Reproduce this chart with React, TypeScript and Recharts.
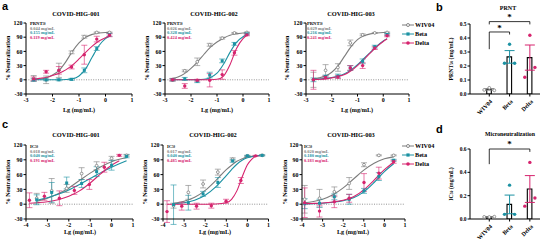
import React from 'react';
import { ComposedChart, Line, Scatter, XAxis, YAxis, ReferenceLine, ReferenceDot, ErrorBar, Bar } from 'recharts';

const GRAY = '#7d7d7d';
const TEAL = '#1c92a3';
const PINK = '#d6246e';
const FONT = '"Liberation Serif", "Times New Roman", serif';

// ---------- Panel a: PRNT ----------
const aDoseX = [-2.71, -2.24, -1.76, -1.28, -0.8, -0.33, 0.15];
const aCurveX = [-2.71, -2.5, -2.25, -2, -1.75, -1.5, -1.25, -1, -0.75, -0.5, -0.25, 0, 0.15];

const a1Wiv = [3, 0, 20, 58, 91, 100, 100];
const a1WivErr = [6, 8, 15, 3, 3, 1, 1];
const a1Beta = [0, 0, 0, 1, 20, 66, 95];
const a1BetaErr = [3, 2, 2, 2, 5, 4, 3];
const a1Delta = [2, 17, 20, 27, 53, 86, 94];
const a1DeltaErr = [4, 3, 8, 4, 20, 6, 3];
const a1WivCurve = [1, 2, 4, 10, 20, 38, 60, 78, 90, 96, 99, 100, 100];
const a1BetaCurve = [0, 0, 0, 0, 0, 0.5, 2, 8, 23, 48, 72, 87, 92];
const a1DeltaCurve = [1, 3, 5, 9, 14, 21, 31, 44, 58, 71, 82, 89, 92];

const a2Wiv = [0, 19, 38, 74, 88, 99, 100];
const a2WivErr = [3, 2, 8, 3, 2, 1, 1];
const a2Beta = [0, 2, -3, 10, 40, 76, 97];
const a2BetaErr = [2, 3, 3, 6, 4, 3, 2];
const a2Delta = [0, -13, -1, -1, 11, 57, 95];
const a2DeltaErr = [2, 5, 2, 14, 10, 5, 2];
const a2WivCurve = [3, 6, 13, 24, 38, 54, 69, 80, 88, 94, 97, 99, 99];
const a2BetaCurve = [0, 0, 0, 0, 0, 1, 5, 14, 33, 58, 79, 91, 95];
const a2DeltaCurve = [0, 0, 0, 0, 0, 0, 0, 1, 8, 32, 66, 87, 94];

const a3Wiv = [0, 20, 26, 78, 95, 99, 100];
const a3WivErr = [16, 12, 8, 6, 2, 1, 1];
const a3Beta = [0, 7, 8, 25, 39, 70, 96];
const a3BetaErr = [4, 3, 4, 5, 5, 3, 2];
const a3Delta = [0, 5, 6, 25, 30, 67, 93];
const a3DeltaErr = [20, 3, 3, 5, 6, 3, 2];
const a3WivCurve = [2, 4, 8, 16, 30, 50, 70, 85, 93, 97, 99, 100, 100];
const a3BetaCurve = [1, 1.5, 3, 5, 8, 13, 21, 32, 45, 58, 71, 82, 87];
const a3DeltaCurve = [0.5, 1, 2, 4, 7, 11, 19, 30, 43, 57, 70, 81, 86];

// ---------- Panel c: microneutralization ----------
const c1X = [-3.5, -2.8, -2.1, -1.4, -0.7, 0.0, 0.7];
const c1DeltaX = [-3.84, -3.14, -2.44, -1.74, -1.04, -0.34, 0.36];
const c1Wiv = [12, 27, 32, 62, 78, 93, 99];
const c1WivErr = [10, 25, 8, 12, 8, 4, 2];
const c1Beta = [9, 24, 43, 42, 66, 79, 97];
const c1BetaErr = [10, 20, 12, 8, 10, 10, 3];
const c1Delta = [8, 16, 12, 28, 40, 75, 99];
const c1DeltaErr = [15, 8, 15, 8, 10, 10, 2];
const c1CurveX = [-3.84, -3.5, -3, -2.5, -2, -1.5, -1, -0.5, 0, 0.36, 0.7];
const c1WivCurve = [null, 6, 12, 21, 33, 48, 63, 76, 86, 91, 94];
const c1BetaCurve = [null, 8, 13, 20, 29, 40, 52, 64, 75, 82, 88];
const c1DeltaCurve = [2, 3, 5, 9, 16, 27, 43, 62, 79, 88, null];

const c2X = [-3.5, -2.8, -2.1, -1.4, -0.7, 0.0, 0.7];
const c2DeltaX = [-3.81, -3.11, -2.41, -1.71, -1.01, -0.31, 0.39];
const c2Wiv = [-3, 24, 41, 65, 91, 98, 99];
const c2WivErr = [5, 14, 8, 6, 3, 1, 1];
const c2Beta = [-1, 3, 21, 44, 88, 98, 99];
const c2BetaErr = [40, 15, 5, 10, 3, 1, 1];
const c2Delta = [-15, -4, -4, -3, 6, 48, 98];
const c2DeltaErr = [22, 8, 6, 5, 4, 6, 1];
const c2CurveX = [-3.81, -3.5, -3, -2.5, -2, -1.5, -1, -0.75, -0.5, -0.25, 0, 0.2, 0.39, 0.7];
const c2WivCurve = [null, 2, 6, 14, 28, 48, 70, 79, 87, 92, 96, 97, 98, 99];
const c2BetaCurve = [null, 1, 3, 8, 18, 35, 58, 70, 81, 89, 94, 96, 98, 99];
const c2DeltaCurve = [0, 0, 0, 0, 0, 0.5, 3, 10, 27, 55, 80, 91, 97, null];

const c3X = [-3.87, -3.15, -2.43, -1.71, -0.99, -0.27, 0.45];
const c3Wiv = [10, 12, 25, 42, 80, 99, 99];
const c3WivErr = [28, 18, 10, 12, 4, 1, 1];
const c3Beta = [1, 2, 15, 10, 27, 56, 89];
const c3BetaErr = [10, 8, 6, 10, 5, 8, 2];
const c3Delta = [3, -14, 5, 12, 44, 63, 86];
const c3DeltaErr = [30, 12, 12, 8, 18, 12, 3];
const c3CurveX = [-3.87, -3.5, -3, -2.5, -2, -1.5, -1, -0.5, 0, 0.45];
const c3WivCurve = [3, 5, 10, 19, 33, 51, 69, 83, 92, 96];
const c3BetaCurve = [0.5, 1, 2, 4, 7, 13, 25, 44, 66, 82];
const c3DeltaCurve = [1, 1.5, 2.5, 4.5, 8, 15, 29, 49, 70, 85];

// ---------- Panels b and d: bars ----------
const variants = ['WIV04', 'Beta', 'Delta'];
const jitter = [-0.25, 0, 0.25];
const prntMeans = [0.033, 0.265, 0.26];
const prntSems = [0.005, 0.045, 0.09];
const prntWivPts = [0.029, 0.044, 0.026];
const prntBetaPts = [0.22, 0.355, 0.22];
const prntDeltaPts = [0.12, 0.42, 0.19];
const microMeans = [0.018, 0.125, 0.257];
const microSems = [0.002, 0.08, 0.115];
const microWivPts = [0.018, 0.017, 0.02];
const microBetaPts = [0.04, 0.29, 0.04];
const microDeltaPts = [0.11, 0.485, 0.18];

const aAnnot = [
  ['0.044', '0.155', '0.119'],
  ['0.026', '0.328', '0.424'],
  ['0.029', '0.216', '0.241'],
];
const cAnnot = [
  ['0.018', '0.040', '0.191'],
  ['0.017', '0.040', '0.485'],
  ['0.020', '0.180', '0.183'],
];

const pts = (xs: number[], ys: number[], es: number[]) => xs.map((x, i) => ({ x, y: ys[i], e: es[i] }));
const curve = (xs: number[], ys: (number | null)[]) => xs.map((x, i) => ({ x, y: ys[i] }));

const tickStyle = { fontSize: 6, fontFamily: FONT, fontWeight: 700, fill: '#000' };

const markerFor = (kind: string, color: string) => (p: any) => {
  const { cx, cy } = p;
  if (cx == null || cy == null) return <g />;
  if (kind === 'square') return <rect x={cx - 1.5} y={cy - 1.5} width={3} height={3} fill={color} />;
  if (kind === 'ring') return <circle cx={cx} cy={cy} r={1.4} fill="#fff" stroke={color} strokeWidth={0.8} />;
  return <circle cx={cx} cy={cy} r={1.7} fill={color} />;
};

type Series = { color: string; kind: string; p: any[]; c: any[] };

function LinePanel(props: { left: number; top: number; w: number; h: number; m: any; yw: number; xDomain: number[]; xTicks: number[]; series: Series[] }) {
  const { left, top, w, h, m, yw, xDomain, xTicks, series } = props;
  return (
    <div style={{ position: 'absolute', left, top }}>
      <ComposedChart width={w} height={h} margin={m}>
        <XAxis type="number" dataKey="x" domain={xDomain} ticks={xTicks} allowDataOverflow interval={0}
          tick={tickStyle} tickLine={{ stroke: '#000' }} axisLine={{ stroke: '#000', strokeWidth: 1 }} tickSize={2.5} tickMargin={1} height={12} />
        <YAxis type="number" domain={[-30, 120]} ticks={[-30, 0, 30, 60, 90, 120]} allowDataOverflow interval={0} width={yw}
          tick={tickStyle} tickLine={{ stroke: '#000' }} axisLine={{ stroke: '#000', strokeWidth: 1 }} tickSize={2.5} tickMargin={1} />
        <ReferenceLine y={0} stroke="#777" strokeDasharray="1 1.4" strokeWidth={0.8} />
        {series.map((s, i) => (
          <Line key={'l' + i} data={s.c} dataKey="y" type="monotone" stroke={s.color} strokeWidth={1.1} dot={false}
            isAnimationActive={false} connectNulls={false} />
        ))}
        {series.map((s, i) => (
          <Scatter key={'s' + i} data={s.p} dataKey="y" isAnimationActive={false} shape={markerFor(s.kind, s.color)}>
            <ErrorBar dataKey="e" direction="y" width={3} stroke={s.color} strokeWidth={0.6} />
          </Scatter>
        ))}
      </ComposedChart>
    </div>
  );
}

const BarTick = (p: any) => {
  const { x, y, payload } = p;
  const ty = y + 2;
  return (
    <text x={x + 2} y={ty} transform={`rotate(-45 ${x + 2} ${ty})`} textAnchor="end" dy="0.35em"
      fontSize={6} fontFamily={FONT} fontWeight={700} fill="#000">{variants[payload.value]}</text>
  );
};

const starShape = (p: any) => (
  <text x={p.cx} y={p.cy} textAnchor="middle" dominantBaseline="central" fontSize={9} fontFamily={FONT} fontWeight={700} fill="#000">*</text>
);

function BarPanel(props: { left: number; top: number; h: number; m: any; yMax: number; ticks: number[]; means: number[]; sems: number[]; groups: number[][]; children?: any }) {
  const { left, top, h, m, yMax, ticks, means, sems, groups } = props;
  const data = variants.map((v, i) => ({ x: i, mean: means[i] }));
  const colors = [GRAY, TEAL, PINK];
  return (
    <div style={{ position: 'absolute', left, top }}>
      <ComposedChart width={126} height={h} margin={m} data={data}>
        <XAxis type="number" dataKey="x" domain={[-0.95, 2.5]} ticks={[0, 1, 2]} allowDataOverflow interval={0}
          tick={<BarTick />} tickLine={{ stroke: '#000' }} axisLine={{ stroke: '#000', strokeWidth: 1 }} tickSize={2.5} height={22} />
        <YAxis type="number" domain={[0, yMax]} ticks={ticks} allowDataOverflow interval={0} width={50}
          tickFormatter={(v: number) => v.toFixed(1)}
          tick={{ ...tickStyle, fontSize: 5.5 }} tickLine={{ stroke: '#000' }} axisLine={{ stroke: '#000', strokeWidth: 1 }} tickSize={2.5} tickMargin={1} />
        <Bar dataKey="mean" barSize={13} fill="#fff" stroke="#000" strokeWidth={1.1} isAnimationActive={false} />
        {variants.map((v, i) => (
          <Scatter key={'e' + i} data={[{ x: i, y: means[i], e: sems[i] }]} dataKey="y" isAnimationActive={false} shape={() => <g />}>
            <ErrorBar dataKey="e" direction="y" width={5} stroke={colors[i]} strokeWidth={1} />
          </Scatter>
        ))}
        {groups.map((g, i) => (
          <Scatter key={'p' + i} data={g.map((y, j) => ({ x: i + jitter[j], y }))} dataKey="y" isAnimationActive={false}
            shape={markerFor(i === 0 ? 'ring' : 'dot', colors[i])} />
        ))}
        {props.children}
      </ComposedChart>
    </div>
  );
}

const T = (p: { x: number; y: number; size: number; children: any; color?: string; anchor?: 'start' | 'middle'; weight?: number; family?: string }) => {
  const tx = p.anchor === 'start' ? '0' : '-50%';
  return (
    <div style={{
      position: 'absolute', left: p.x, top: p.y, fontFamily: p.family || FONT, fontWeight: p.weight ?? 700, fontSize: p.size,
      color: p.color || '#000', lineHeight: 1, whiteSpace: 'nowrap', transform: `translate(${tx}, -50%)`,
    }}>{p.children}</div>
  );
};

const RotT = (p: { x: number; y: number; size: number; children: any }) => (
  <div style={{
    position: 'absolute', left: p.x, top: p.y, fontFamily: FONT, fontWeight: 700, fontSize: p.size, lineHeight: 1,
    whiteSpace: 'nowrap', transform: 'translate(-50%, -50%) rotate(-90deg)',
  }}>{p.children}</div>
);

const Annot = (p: { x: number; y: number; head: any; vals: string[] }) => (
  <>
    <T x={p.x} y={p.y} size={4.6} anchor="start">{p.head}</T>
    <T x={p.x} y={p.y + 4.7} size={4.4} anchor="start" color={GRAY}>{p.vals[0]} mg/mL</T>
    <T x={p.x} y={p.y + 9.2} size={4.4} anchor="start" color={TEAL}>{p.vals[1]} mg/mL</T>
    <T x={p.x} y={p.y + 13.7} size={4.4} anchor="start" color={PINK}>{p.vals[2]} mg/mL</T>
  </>
);

const LegendBox = (p: { y: number }) => {
  const items = [['WIV04', GRAY, 'ring'], ['Beta', TEAL, 'square'], ['Delta', PINK, 'dot']];
  return (
    <>
      {items.map((it, i) => (
        <React.Fragment key={i}>
          <svg style={{ position: 'absolute', left: 402, top: p.y + i * 9 - 4 }} width={12} height={8}>
            <line x1={0} x2={12} y1={4} y2={4} stroke={it[1]} strokeWidth={1} />
            {it[2] === 'square' ? <rect x={4.4} y={2.4} width={3.2} height={3.2} fill={it[1]} /> :
              it[2] === 'ring' ? <circle cx={6} cy={4} r={1.5} fill="#fff" stroke={it[1]} strokeWidth={0.9} /> :
                <circle cx={6} cy={4} r={1.8} fill={it[1]} />}
          </svg>
          <T x={415} y={p.y + i * 9} size={6.2} anchor="start">{it[0]}</T>
        </React.Fragment>
      ))}
    </>
  );
};

const sub = (t: string) => <sub style={{ fontSize: '0.65em', verticalAlign: '-0.2em' }}>{t}</sub>;

export default function App() {
  const aX = [-3, 1];
  const aT = [-3, -2, -1, 0, 1];
  const cX = [-4, 1];
  const cT = [-4, -3, -2, -1, 0, 1];
  const mkA = (w: number[], we: number[], b: number[], be: number[], d: number[], de: number[], wc: number[], bc: number[], dc: number[]): Series[] => [
    { color: GRAY, kind: 'ring', p: pts(aDoseX, w, we), c: curve(aCurveX, wc) },
    { color: TEAL, kind: 'square', p: pts(aDoseX, b, be), c: curve(aCurveX, bc) },
    { color: PINK, kind: 'dot', p: pts(aDoseX, d, de), c: curve(aCurveX, dc) },
  ];
  const mkC = (xs: number[], dx: number[], cx: number[], w: number[], we: number[], b: number[], be: number[], d: number[], de: number[], wc: any[], bc: any[], dc: any[]): Series[] => [
    { color: GRAY, kind: 'ring', p: pts(xs, w, we), c: curve(cx, wc) },
    { color: TEAL, kind: 'square', p: pts(xs, b, be), c: curve(cx, bc) },
    { color: PINK, kind: 'dot', p: pts(dx, d, de), c: curve(cx, dc) },
  ];
  const bracket = { stroke: '#000', strokeWidth: 0.8, ifOverflow: 'visible' as const };
  return (
    <div style={{ position: 'absolute', left: 0, top: 0, width: 546, height: 242, background: '#fff', overflow: 'hidden' }}>
      <LinePanel left={0} top={0} w={140} h={120} m={{ top: 23, right: 8, bottom: 14, left: 0 }} yw={26} xDomain={aX} xTicks={aT}
        series={mkA(a1Wiv, a1WivErr, a1Beta, a1BetaErr, a1Delta, a1DeltaErr, a1WivCurve, a1BetaCurve, a1DeltaCurve)} />
      <LinePanel left={140} top={0} w={140} h={120} m={{ top: 23, right: 11, bottom: 14, left: 0 }} yw={25} xDomain={aX} xTicks={aT}
        series={mkA(a2Wiv, a2WivErr, a2Beta, a2BetaErr, a2Delta, a2DeltaErr, a2WivCurve, a2BetaCurve, a2DeltaCurve)} />
      <LinePanel left={280} top={0} w={140} h={120} m={{ top: 23, right: 11, bottom: 14, left: 0 }} yw={26} xDomain={aX} xTicks={aT}
        series={mkA(a3Wiv, a3WivErr, a3Beta, a3BetaErr, a3Delta, a3DeltaErr, a3WivCurve, a3BetaCurve, a3DeltaCurve)} />

      <LinePanel left={0} top={120} w={140} h={122} m={{ top: 25, right: 7, bottom: 11, left: 0 }} yw={26} xDomain={cX} xTicks={cT}
        series={mkC(c1X, c1DeltaX, c1CurveX, c1Wiv, c1WivErr, c1Beta, c1BetaErr, c1Delta, c1DeltaErr, c1WivCurve, c1BetaCurve, c1DeltaCurve)} />
      <LinePanel left={140} top={120} w={140} h={122} m={{ top: 25, right: 11.5, bottom: 11, left: 0 }} yw={23} xDomain={cX} xTicks={cT}
        series={mkC(c2X, c2DeltaX, c2CurveX, c2Wiv, c2WivErr, c2Beta, c2BetaErr, c2Delta, c2DeltaErr, c2WivCurve, c2BetaCurve, c2DeltaCurve)} />
      <LinePanel left={280} top={120} w={140} h={122} m={{ top: 25, right: 15, bottom: 11, left: 0 }} yw={22} xDomain={cX} xTicks={cT}
        series={mkC(c3X, c3X, c3CurveX, c3Wiv, c3WivErr, c3Beta, c3BetaErr, c3Delta, c3DeltaErr, c3WivCurve, c3BetaCurve, c3DeltaCurve)} />

      <BarPanel left={420} top={0} h={120} m={{ top: 24, right: 6, bottom: 4, left: 0 }} yMax={0.5} ticks={[0, 0.1, 0.2, 0.3, 0.4, 0.5]}
        means={prntMeans} sems={prntSems} groups={[prntWivPts, prntBetaPts, prntDeltaPts]}>
        <ReferenceLine segment={[{ x: 0, y: 0.517 }, { x: 2, y: 0.517 }]} {...bracket} />
        <ReferenceLine segment={[{ x: 0, y: 0.517 }, { x: 0, y: 0.497 }]} {...bracket} />
        <ReferenceLine segment={[{ x: 2, y: 0.517 }, { x: 2, y: 0.497 }]} {...bracket} />
        <ReferenceLine segment={[{ x: 0, y: 0.443 }, { x: 1, y: 0.443 }]} {...bracket} />
        <ReferenceLine segment={[{ x: 0, y: 0.443 }, { x: 0, y: 0.32 }]} {...bracket} />
        <ReferenceLine segment={[{ x: 1, y: 0.443 }, { x: 1, y: 0.425 }]} {...bracket} />
        <ReferenceDot x={1} y={0.548} ifOverflow="visible" shape={starShape} />
        <ReferenceDot x={0.5} y={0.474} ifOverflow="visible" shape={starShape} />
      </BarPanel>
      <BarPanel left={420} top={120} h={122} m={{ top: 29, right: 6, bottom: 1, left: 0 }} yMax={0.6} ticks={[0, 0.2, 0.4, 0.6]}
        means={microMeans} sems={microSems} groups={[microWivPts, microBetaPts, microDeltaPts]}>
        <ReferenceLine segment={[{ x: 0, y: 0.6 }, { x: 2, y: 0.6 }]} {...bracket} />
        <ReferenceLine segment={[{ x: 0, y: 0.6 }, { x: 0, y: 0.47 }]} {...bracket} />
        <ReferenceLine segment={[{ x: 2, y: 0.6 }, { x: 2, y: 0.575 }]} {...bracket} />
        <ReferenceDot x={1} y={0.64} ifOverflow="visible" shape={starShape} />
      </BarPanel>

      {/* panel letters */}
      <T x={2} y={6} size={11} anchor="start" family='"Liberation Sans", Arial, sans-serif'>a</T>
      <T x={436} y={7} size={11} anchor="start" family='"Liberation Sans", Arial, sans-serif'>b</T>
      <T x={2} y={124} size={11} anchor="start" family='"Liberation Sans", Arial, sans-serif'>c</T>
      <T x={436} y={129} size={11} anchor="start" family='"Liberation Sans", Arial, sans-serif'>d</T>

      {/* titles */}
      <T x={76} y={14} size={6.4}>COVID-HIG-001</T>
      <T x={214} y={14} size={6.4}>COVID-HIG-002</T>
      <T x={351} y={14} size={6.4}>COVID-HIG-003</T>
      <T x={76} y={135} size={6.4}>COVID-HIG-001</T>
      <T x={213} y={135} size={6.4}>COVID-HIG-002</T>
      <T x={351} y={135} size={6.4}>COVID-HIG-003</T>
      <T x={508} y={8} size={6}>PRNT</T>
      <T x={510} y={135} size={5.8}>Microneutralization</T>

      {/* axis labels */}
      <RotT x={8} y={58} size={6}>% Neutralization</RotT>
      <RotT x={147} y={58} size={6}>% Neutralization</RotT>
      <RotT x={287} y={58} size={6}>% Neutralization</RotT>
      <RotT x={8} y={182} size={6}>% Neutralization</RotT>
      <RotT x={145} y={182} size={6}>% Neutralization</RotT>
      <RotT x={285} y={182} size={6}>% Neutralization</RotT>
      <RotT x={452} y={59} size={5.8}><span>PRNT{sub('50')} (mg/mL)</span></RotT>
      <RotT x={452} y={184} size={5.8}><span>IC{sub('50')} (mg/mL)</span></RotT>
      <T x={79} y={110} size={6.2}>Lg (mg/mL)</T>
      <T x={217} y={110} size={6.2}>Lg (mg/mL)</T>
      <T x={357} y={110} size={6.2}>Lg (mg/mL)</T>
      <T x={80} y={232} size={6.2}>Lg (mg/mL)</T>
      <T x={215} y={232} size={6.2}>Lg (mg/mL)</T>
      <T x={353} y={232} size={6.2}>Lg (mg/mL)</T>

      {/* annotations */}
      <Annot x={30} y={24} head={<span>PRNT{sub('50')}</span>} vals={aAnnot[0]} />
      <Annot x={167} y={24} head={<span>PRNT{sub('50')}</span>} vals={aAnnot[1]} />
      <Annot x={307} y={24} head={<span>PRNT{sub('50')}</span>} vals={aAnnot[2]} />
      <Annot x={30} y={147} head={<span>IC{sub('50')}</span>} vals={cAnnot[0]} />
      <Annot x={167} y={147} head={<span>IC{sub('50')}</span>} vals={cAnnot[1]} />
      <Annot x={304} y={147} head={<span>IC{sub('50')}</span>} vals={cAnnot[2]} />

      <LegendBox y={25} />
      <LegendBox y={146} />
    </div>
  );
}
